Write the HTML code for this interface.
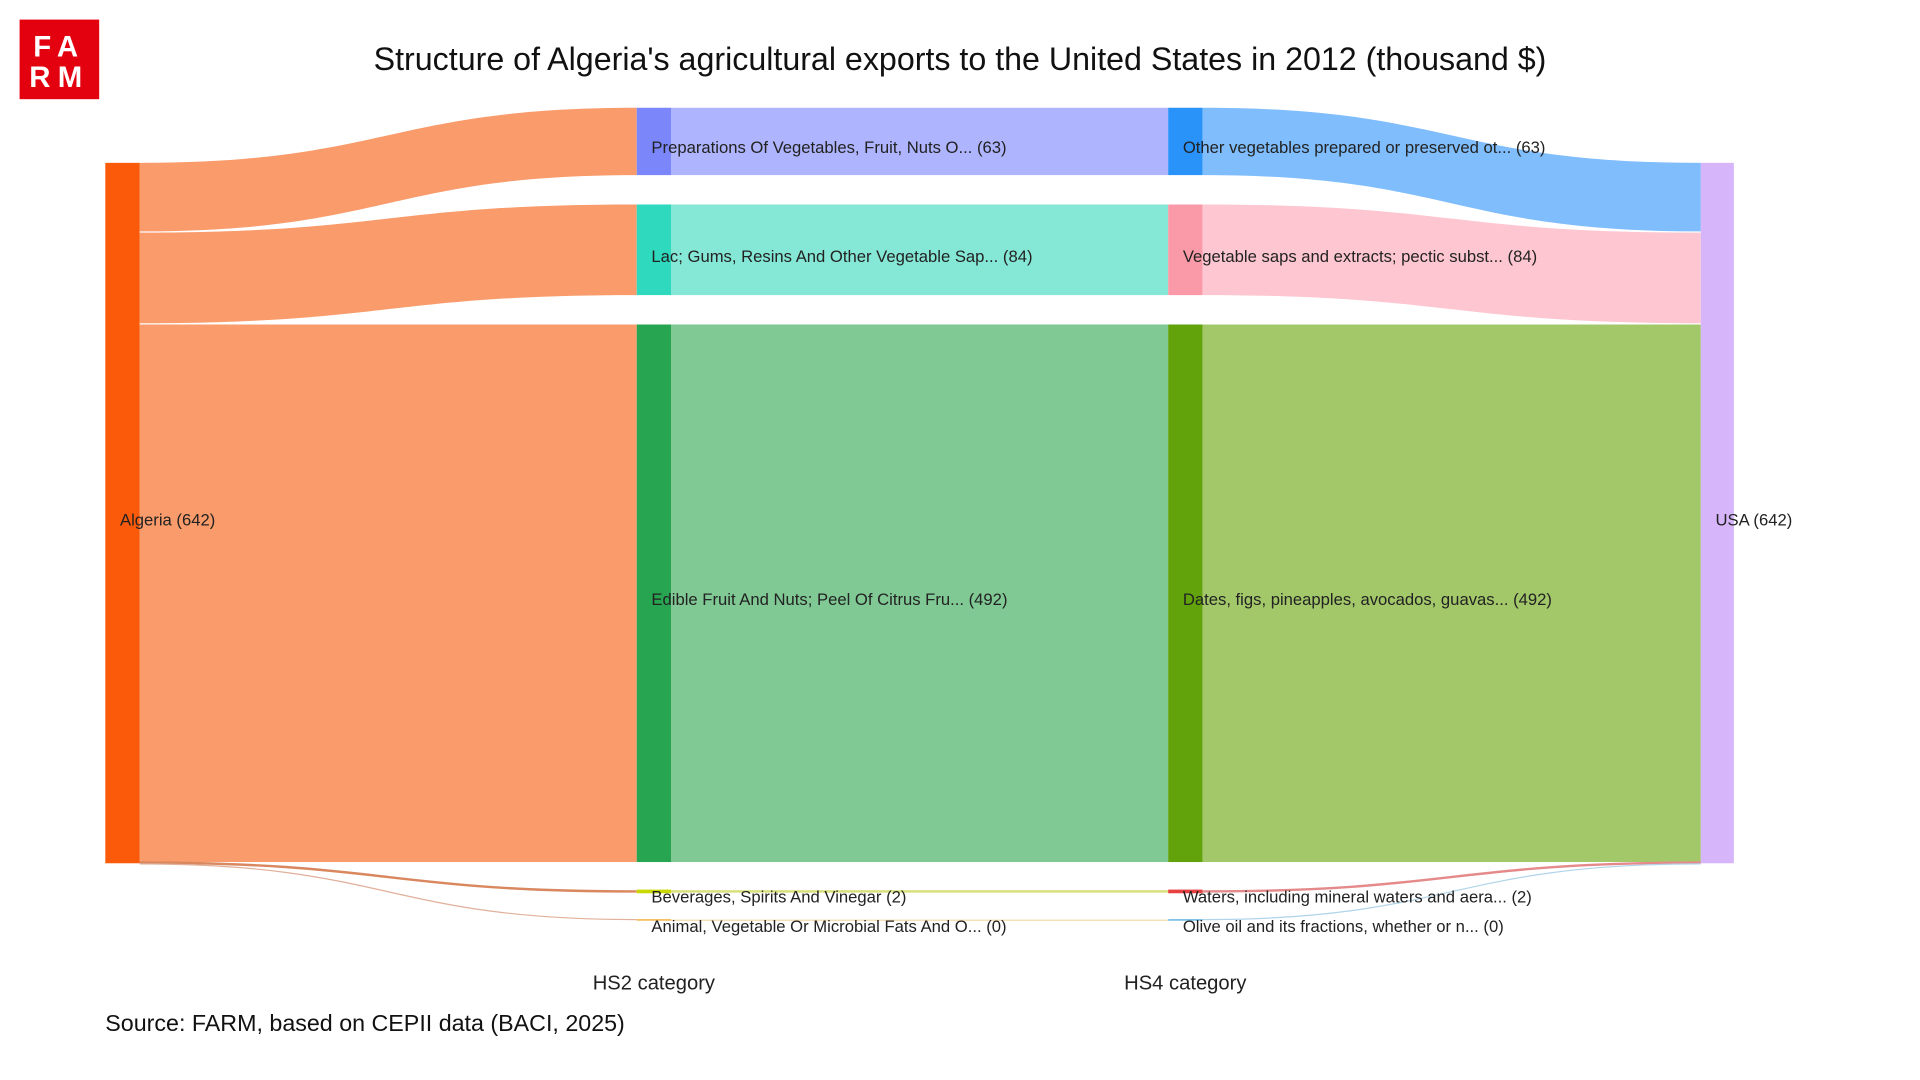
<!DOCTYPE html>
<html><head><meta charset="utf-8"><style>html,body{margin:0;padding:0;background:#fff;overflow:hidden}svg{display:block}text{font-family:"Liberation Sans",Arial,sans-serif}</style></head>
<body>
<svg width="1920" height="1080" viewBox="0 0 1568 882" preserveAspectRatio="none" xmlns="http://www.w3.org/2000/svg">
<rect width="1568" height="882" fill="#fff"/>
<rect x="16" y="16" width="65" height="65" fill="#e3000f"/>
<text x="48.5" y="46" fill="#fff" font-size="24" font-weight="bold" text-anchor="middle" letter-spacing="6">FA</text>
<text x="48.5" y="71" fill="#fff" font-size="24" font-weight="bold" text-anchor="middle" letter-spacing="6">RM</text>
<text x="784" y="57" font-size="26.3" text-anchor="middle" fill="#111">Structure of Algeria's agricultural exports to the United States in 2012 (thousand $)</text>
<path d="M114,133 C317,133 317,88 520,88 L520,143 C317,143 317,189 114,189Z" fill="#f99b6a"/>
<path d="M114,190 C317,190 317,167 520,167 L520,241 C317,241 317,264 114,264Z" fill="#f99b6a"/>
<path d="M114,265 L520,265 L520,704 L114,704Z" fill="#f99b6a"/>
<path d="M114,704.5 C317,704.5 317,728 520,728" stroke="#d9875e" stroke-width="2" fill="none"/>
<path d="M114,705.5 C317,705.5 317,751 520,751" stroke="#e0b09a" stroke-width="1" fill="none"/>
<rect x="548" y="88" width="406" height="55" fill="#aeb4fd"/>
<rect x="548" y="167" width="406" height="74" fill="#85e8d6"/>
<rect x="548" y="265" width="406" height="439" fill="#80c994"/>
<rect x="548" y="727" width="406" height="2" fill="#d9e07a"/>
<rect x="548" y="751" width="406" height="1" fill="#f5d9a8"/>
<path d="M982,88 C1185,88 1185,133 1389,133 L1389,189 C1185,189 1185,143 982,143Z" fill="#7fbdfc"/>
<path d="M982,167 C1185,167 1185,190 1389,190 L1389,264 C1185,264 1185,241 982,241Z" fill="#fdc6d0"/>
<path d="M982,265 L1389,265 L1389,704 L982,704Z" fill="#a3c86a"/>
<path d="M982,728 C1185,728 1185,704.5 1389,704.5" stroke="#e58a8a" stroke-width="2" fill="none"/>
<path d="M982,751 C1185,751 1185,705.5 1389,705.5" stroke="#b0d4ea" stroke-width="1" fill="none"/>
<rect x="86" y="133" width="28" height="572" fill="#fa5a0a"/>
<rect x="520" y="88" width="28" height="55" fill="#7b86fb"/>
<rect x="520" y="167" width="28" height="74" fill="#2fd9bd"/>
<rect x="520" y="265" width="28" height="439" fill="#27a551"/>
<rect x="520" y="726.5" width="28" height="3" fill="#c8d800"/>
<rect x="520" y="750.5" width="28" height="1.5" fill="#f5c060"/>
<rect x="954" y="88" width="28" height="55" fill="#2a93fa"/>
<rect x="954" y="167" width="28" height="74" fill="#fa9aa8"/>
<rect x="954" y="265" width="28" height="439" fill="#62a20a"/>
<rect x="954" y="726.5" width="28" height="3" fill="#e84040"/>
<rect x="954" y="750.5" width="28" height="1.5" fill="#7fc4e8"/>
<rect x="1389" y="133" width="27" height="572" fill="#d6b5fb"/>
<g font-size="13.6" fill="#222">
<text x="98" y="429">Algeria (642)</text>
<text x="1401" y="429">USA (642)</text>
<text x="532" y="125">Preparations Of Vegetables, Fruit, Nuts O... (63)</text>
<text x="532" y="214">Lac; Gums, Resins And Other Vegetable Sap... (84)</text>
<text x="532" y="494">Edible Fruit And Nuts; Peel Of Citrus Fru... (492)</text>
<text x="532" y="737">Beverages, Spirits And Vinegar (2)</text>
<text x="532" y="761">Animal, Vegetable Or Microbial Fats And O... (0)</text>
<text x="966" y="125">Other vegetables prepared or preserved ot... (63)</text>
<text x="966" y="214">Vegetable saps and extracts; pectic subst... (84)</text>
<text x="966" y="494">Dates, figs, pineapples, avocados, guavas... (492)</text>
<text x="966" y="737">Waters, including mineral waters and aera... (2)</text>
<text x="966" y="761">Olive oil and its fractions, whether or n... (0)</text>
</g>
<text x="534" y="808" font-size="16.5" text-anchor="middle" fill="#222">HS2 category</text>
<text x="968" y="808" font-size="16.5" text-anchor="middle" fill="#222">HS4 category</text>
<text x="86" y="842" font-size="19" fill="#111">Source: FARM, based on CEPII data (BACI, 2025)</text>
</svg>
</body></html>
